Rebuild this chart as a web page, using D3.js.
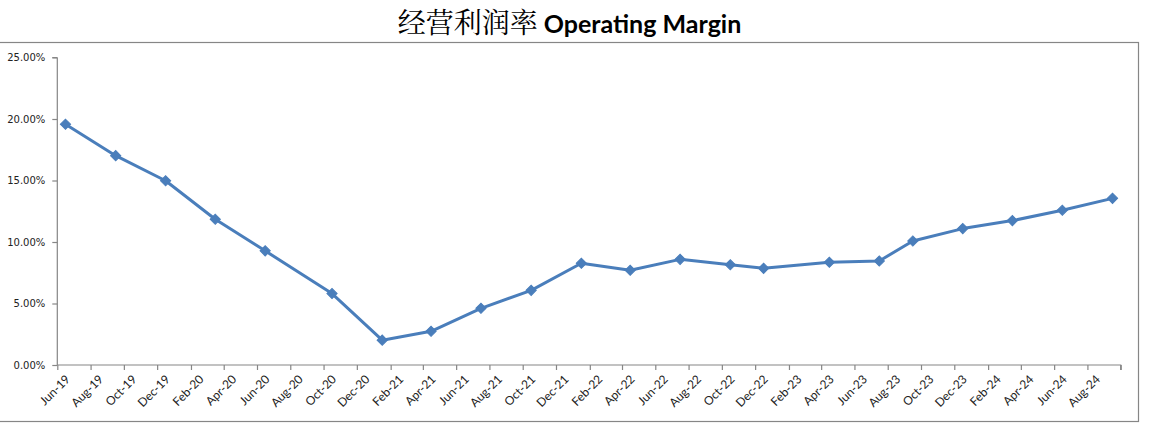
<!DOCTYPE html>
<html>
<head>
<meta charset="utf-8">
<script src="https://cdn.jsdelivr.net/npm/d3@7/dist/d3.min.js"></script>
<style>
  html, body { margin: 0; padding: 0; background: #fff; }
  svg { display: block; }
</style>
</head>
<body>
<svg id="chart" width="1149" height="429"></svg>
<script>
// ---- data ----
const titleZh = "经营利润率";
const titleEn = "Operating Margin";
const dates = ["2019-06","2019-09","2019-12","2020-03","2020-06","2020-10","2021-01","2021-04",
  "2021-07","2021-10","2022-01","2022-04","2022-07","2022-10","2022-12","2023-04","2023-07",
  "2023-09","2023-12","2024-03","2024-06","2024-09"];
const margins = [0.1957,0.1702,0.1498,0.1185,0.0928,0.0581,0.0202,0.0274,
  0.0461,0.0607,0.0827,0.0770,0.0859,0.0815,0.0786,0.0835,0.0846,
  0.1008,0.1109,0.1174,0.1258,0.1355];
const yTicks = [0, 0.05, 0.10, 0.15, 0.20, 0.25];
const xStart = "2019-06", xEnd = "2024-10";

// ---- setup ----
const svg = d3.select("#chart");
const parse = d3.timeParse("%Y-%m");
const mLeft = 57.3, mRight = 1120.7, mTop = 57.5, mBottom = 365;
const axisColor = "#868686";

// frame
svg.append("rect").attr("x", -1).attr("y", 42.5).attr("width", 1139.5).attr("height", 379)
  .attr("fill", "none").attr("stroke", axisColor).attr("stroke-width", 1.2);

// title
const title = svg.append("text").attr("x", 569.5).attr("y", 33).attr("text-anchor", "middle").attr("fill", "#000");
title.append("tspan").text(titleZh)
  .attr("font-family", "'Noto Serif CJK SC', 'Noto Sans CJK SC', sans-serif").attr("font-size", 28).attr("font-weight", 400);
title.append("tspan").text(" " + titleEn)
  .attr("font-family", "Lato, 'Open Sans', sans-serif").attr("font-size", 25).attr("font-weight", 700);

const x = d3.scaleTime().domain([parse(xStart), parse(xEnd)]).range([mLeft, mRight]);
const y = d3.scaleLinear().domain([0, 0.25]).range([mBottom, mTop]);

// y axis
const yAxis = svg.append("g").attr("transform", `translate(${mLeft},0)`)
  .call(d3.axisLeft(y).tickValues(yTicks).tickFormat(d3.format(".2%")).tickSize(5).tickPadding(7));
yAxis.selectAll("path, line").attr("stroke", axisColor).attr("stroke-width", 1.2);
yAxis.select(".domain").attr("d", `M0,${mTop}H-5M0,${mTop}V${mBottom}`);
yAxis.selectAll("text").attr("font-family", "'DejaVu Sans', Tahoma, sans-serif").attr("font-size", 10).attr("fill", "#222");

// x axis
const xTickDates = d3.timeMonth.range(parse(xStart), d3.timeMonth.offset(parse(xEnd), 1), 2);
const fmt = d3.timeFormat("%b-%y");
const lastTick = +parse(xEnd);
const xAxis = svg.append("g").attr("transform", `translate(0,${mBottom})`)
  .call(d3.axisBottom(x).tickValues(xTickDates).tickSize(5)
    .tickFormat(d => (+d === lastTick ? "" : fmt(d))));
xAxis.selectAll("path, line").attr("stroke", axisColor).attr("stroke-width", 1.2);
xAxis.select(".domain").attr("d", `M${mLeft},0H${mRight}V5`);
xAxis.selectAll("text")
  .attr("font-family", "Lato, 'Open Sans', sans-serif").attr("font-size", 12).attr("fill", "#222")
  .attr("text-anchor", "end").attr("x", 0).attr("y", 0).attr("dy", "0.35em")
  .attr("transform", "translate(10,12) rotate(-45)");

// data positions at mid-month
const pts = dates.map((d, i) => {
  const t0 = parse(d), t1 = d3.timeMonth.offset(t0, 1);
  return { t: new Date((+t0 + +t1) / 2), v: margins[i] };
});
const lineColor = "#4a7ebb";
svg.append("path").datum(pts)
  .attr("fill", "none").attr("stroke", lineColor).attr("stroke-width", 3).attr("stroke-linejoin", "round")
  .attr("d", d3.line().x(d => x(d.t)).y(d => y(d.v)));

const marker = d3.symbol().type(d3.symbolSquare).size(52);
svg.append("g").selectAll("path").data(pts).join("path")
  .attr("d", marker)
  .attr("transform", d => `translate(${x(d.t)},${y(d.v)}) rotate(45)`)
  .attr("fill", lineColor).attr("stroke", lineColor).attr("stroke-width", 1);
</script>
</body>
</html>
